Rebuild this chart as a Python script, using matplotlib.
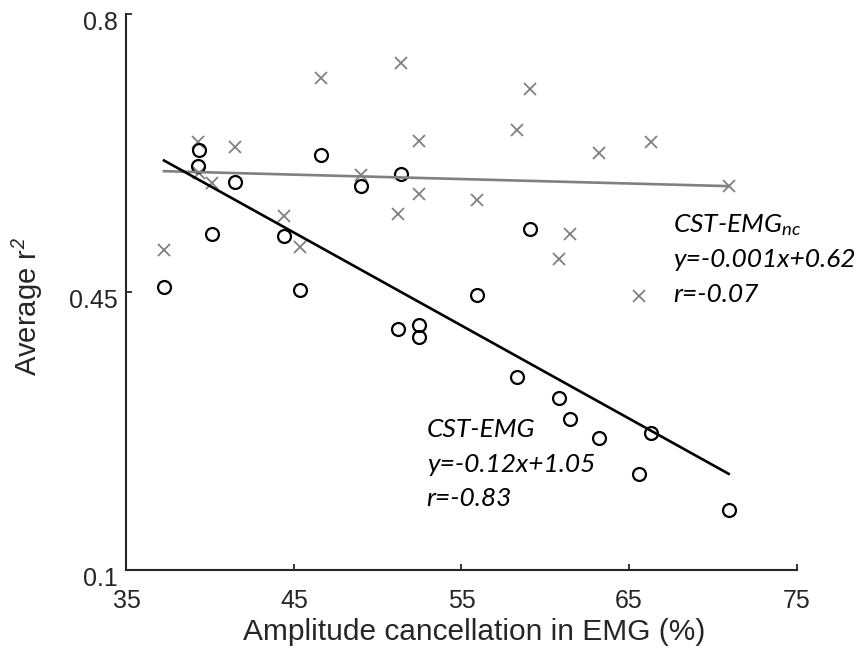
import numpy as np
import matplotlib
matplotlib.use('Agg')
import matplotlib.pyplot as plt
from matplotlib.transforms import ScaledTranslation

# amplitude cancellation (%) for each subject, shared by both measures
cancel = [37.24, 39.25, 39.35, 40.10, 41.46, 44.40, 45.34, 46.63, 49.02, 51.41, 51.23,
          52.46, 52.46, 55.93, 58.31, 59.09, 60.82, 61.46, 63.21, 65.60, 66.33, 70.95]
# CST-EMG (circles)
r2_emg = [0.456, 0.609, 0.629, 0.523, 0.589, 0.521, 0.452, 0.623, 0.583, 0.599, 0.404,
          0.408, 0.393, 0.446, 0.343, 0.529, 0.317, 0.290, 0.266, 0.221, 0.272, 0.176]
# CST-EMG no cancellation (crosses)
r2_nc = [0.503, 0.639, 0.600, 0.587, 0.632, 0.546, 0.507, 0.719, 0.597, 0.738, 0.548,
         0.640, 0.574, 0.566, 0.654, 0.705, 0.491, 0.523, 0.625, 0.445, 0.639, 0.583]

xticks = [35, 45, 55, 65, 75]
yticks = [0.1, 0.45, 0.8]
text_emg = ['CST-EMG', 'y=-0.12x+1.05', 'r=-0.83']
text_nc = ['CST-EMG$_{nc}$', 'y=-0.001x+0.62', 'r=-0.07']

plt.rcParams['font.family'] = 'Liberation Sans'
plt.rcParams['mathtext.fontset'] = 'custom'
plt.rcParams['mathtext.it'] = 'Lato:italic'
plt.rcParams['mathtext.rm'] = 'Lato:italic'

axcol = '#262626'
gray = '#808080'

fig = plt.figure(figsize=(8.61, 6.49), dpi=100)
ax = fig.add_axes([0.1469, 0.1217, 0.7782, 0.8567])

x = np.array(cancel)
ax.plot(x, r2_nc, 'x', color=gray, markersize=8.5, markeredgewidth=1.3)
ax.plot(x, r2_emg, 'o', mfc='none', mec='black', markersize=9.3, markeredgewidth=1.6)

# least-squares lines
xs = np.array([x.min(), x.max()])
p_nc = np.polyfit(x, r2_nc, 1)
p_emg = np.polyfit(x, r2_emg, 1)
ax.plot(xs, np.polyval(p_nc, xs), color=gray, lw=1.9)
ax.plot(xs, np.polyval(p_emg, xs), color='black', lw=1.9)

# annotations
for i, s in enumerate(text_nc):
    ax.text(67.63, 0.525 - i * 0.044, s, fontsize=19, family='Lato', style='italic',
            va='baseline', ha='left', color='black')
for i, s in enumerate(text_emg):
    ax.text(52.92, 0.268 - i * 0.044, s, fontsize=19, family='Lato', style='italic',
            va='baseline', ha='left', color='black')

ax.set_xlim(35, 75)
ax.set_ylim(0.1, 0.8)
ax.set_xticks(xticks)
ax.set_yticks(yticks)
ax.set_yticklabels(['0.1', '0.45', '0.8'])

for s in ['top', 'right']:
    ax.spines[s].set_visible(False)
for s in ['left', 'bottom']:
    ax.spines[s].set_color(axcol)
    ax.spines[s].set_linewidth(1.5)

ax.tick_params(direction='in', length=4.5, width=1.3, color=axcol, labelcolor=axcol,
               labelsize=18)
ax.tick_params(axis='x', pad=14)
ax.tick_params(axis='y', pad=6)
off = ScaledTranslation(0, -6 / 100, fig.dpi_scale_trans)
for lab in ax.get_yticklabels():
    lab.set_transform(lab.get_transform() + off)

ax.set_xlabel('Amplitude cancellation in EMG (%)', fontsize=21.5, color=axcol)
ax.xaxis.set_label_coords(0.519, -0.087)
ax.set_ylabel('Average r$^{2}$', fontsize=21, color=axcol)
ax.yaxis.label.set_family('Liberation Sans')
ax.yaxis.set_label_coords(-0.121, 0.474)

fig.savefig('out.png', dpi=100)
